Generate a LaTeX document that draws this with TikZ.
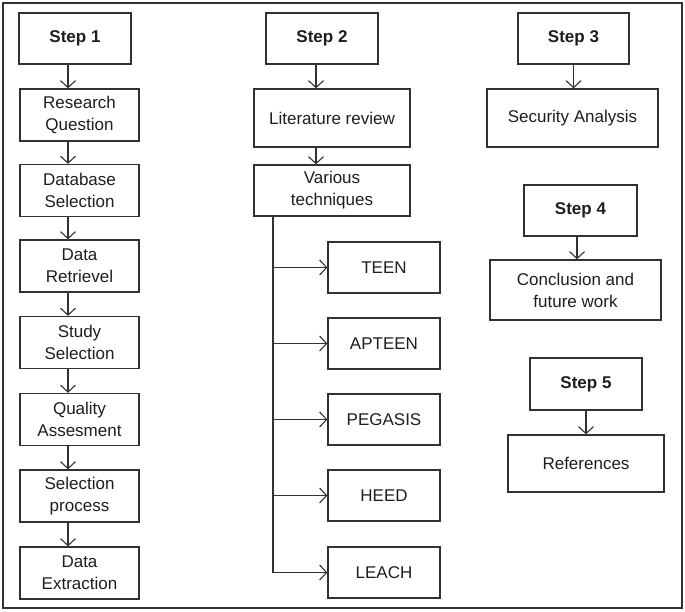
\documentclass[tikz,border=0pt]{standalone}
\usepackage{fontspec}
\setmainfont{Liberation Sans}
\usetikzlibrary{arrows.meta}
\definecolor{ln}{RGB}{50,50,50}
\definecolor{tx}{RGB}{30,30,30}
\tikzset{
  box/.style={draw=ln,line width=1.3pt,rectangle,align=center,text=tx,
    font=\fontsize{17}{22}\selectfont,inner sep=0pt},
  stepbox/.style={box,font=\fontsize{17}{22}\selectfont\bfseries},
  arr/.style={draw=ln,line width=1.1pt,-{Straight Barb[length=7pt,width=15pt,line width=1.1pt]}},
  ln/.style={draw=ln,line width=1.1pt}
}
\begin{document}
\begin{tikzpicture}[x=1pt,y=-1pt]
\useasboundingbox (0,0) rectangle (685,611);
\draw[draw=ln,line width=1.5pt] (3,3) rectangle (682,608);
% column 1
\node[stepbox,minimum width=112pt,minimum height=51pt] (s1) at (75,38.5) {Step 1};
\node[box,minimum width=119pt,minimum height=52pt] (rq) at (79.5,115) {Research\\Question};
\node[box,minimum width=119pt,minimum height=52pt] (db) at (79.5,190.5) {Database\\Selection};
\node[box,minimum width=119pt,minimum height=52pt] (dr) at (79.5,266) {Data\\Retrievel};
\node[box,minimum width=119pt,minimum height=52pt] (ss) at (79.5,342.5) {Study\\Selection};
\node[box,minimum width=119pt,minimum height=52pt] (qa) at (79.5,419.5) {Quality\\Assesment};
\node[box,minimum width=119pt,minimum height=52pt] (sp) at (79.5,496) {Selection\\process};
\node[box,minimum width=119pt,minimum height=52pt] (de) at (79.5,573) {Data\\Extraction};
\foreach \a/\b in {s1/rq,rq/db,db/dr,dr/ss,ss/qa,qa/sp,sp/de}{
  \draw[arr] ([xshift=-7pt]\a.south -| s1.south) -- ([xshift=-7pt]\b.north -| s1.south);
}
% column 2
\node[stepbox,minimum width=112pt,minimum height=51pt] (s2) at (322,38.5) {Step 2};
\node[box,minimum width=156pt,minimum height=58pt] (lr) at (332,118) {Literature review};
\node[box,minimum width=156pt,minimum height=51pt] (vt) at (332,190.5) {Various\\techniques};
\draw[arr] ([xshift=-6pt]s2.south) -- ([xshift=-6pt]s2.south |- lr.north);
\draw[arr] ([xshift=-6pt]s2.south |- lr.south) -- ([xshift=-6pt]s2.south |- vt.north);
\node[box,minimum width=112pt,minimum height=51pt] (teen) at (384,267.5) {TEEN};
\node[box,minimum width=112pt,minimum height=51pt] (apteen) at (384,343.5) {APTEEN};
\node[box,minimum width=112pt,minimum height=51pt] (pegasis) at (384,419.5) {PEGASIS};
\node[box,minimum width=112pt,minimum height=51pt] (heed) at (384,495.5) {HEED};
\node[box,minimum width=112pt,minimum height=51pt] (leach) at (384,572.5) {LEACH};
\coordinate (sp0) at ([xshift=-59pt]vt.south);
\draw[ln] (sp0) -- (sp0 |- leach.west);
\foreach \t in {teen,apteen,pegasis,heed,leach}{
  \draw[arr] (sp0 |- \t.west) -- (\t.west);
}
% column 3
\node[stepbox,minimum width=111pt,minimum height=51pt] (s3) at (573.5,38.5) {Step 3};
\node[box,minimum width=171pt,minimum height=58pt] (sa) at (572.5,118) {Security Analysis};
\draw[arr] (s3.south) -- (s3.south |- sa.north);
\node[stepbox,minimum width=113pt,minimum height=51pt] (s4) at (580.5,210.5) {Step 4};
\node[box,minimum width=171pt,minimum height=60pt] (cf) at (575.5,290) {Conclusion and\\future work};
\draw[arr] ([xshift=-3.5pt]s4.south) -- ([xshift=-3.5pt]s4.south |- cf.north);
\node[stepbox,minimum width=112pt,minimum height=52pt] (s5) at (586,384) {Step 5};
\node[box,minimum width=156pt,minimum height=57pt] (ref) at (586,463.5) {References};
\draw[arr] (s5.south) -- (s5.south |- ref.north);
\end{tikzpicture}
\end{document}
